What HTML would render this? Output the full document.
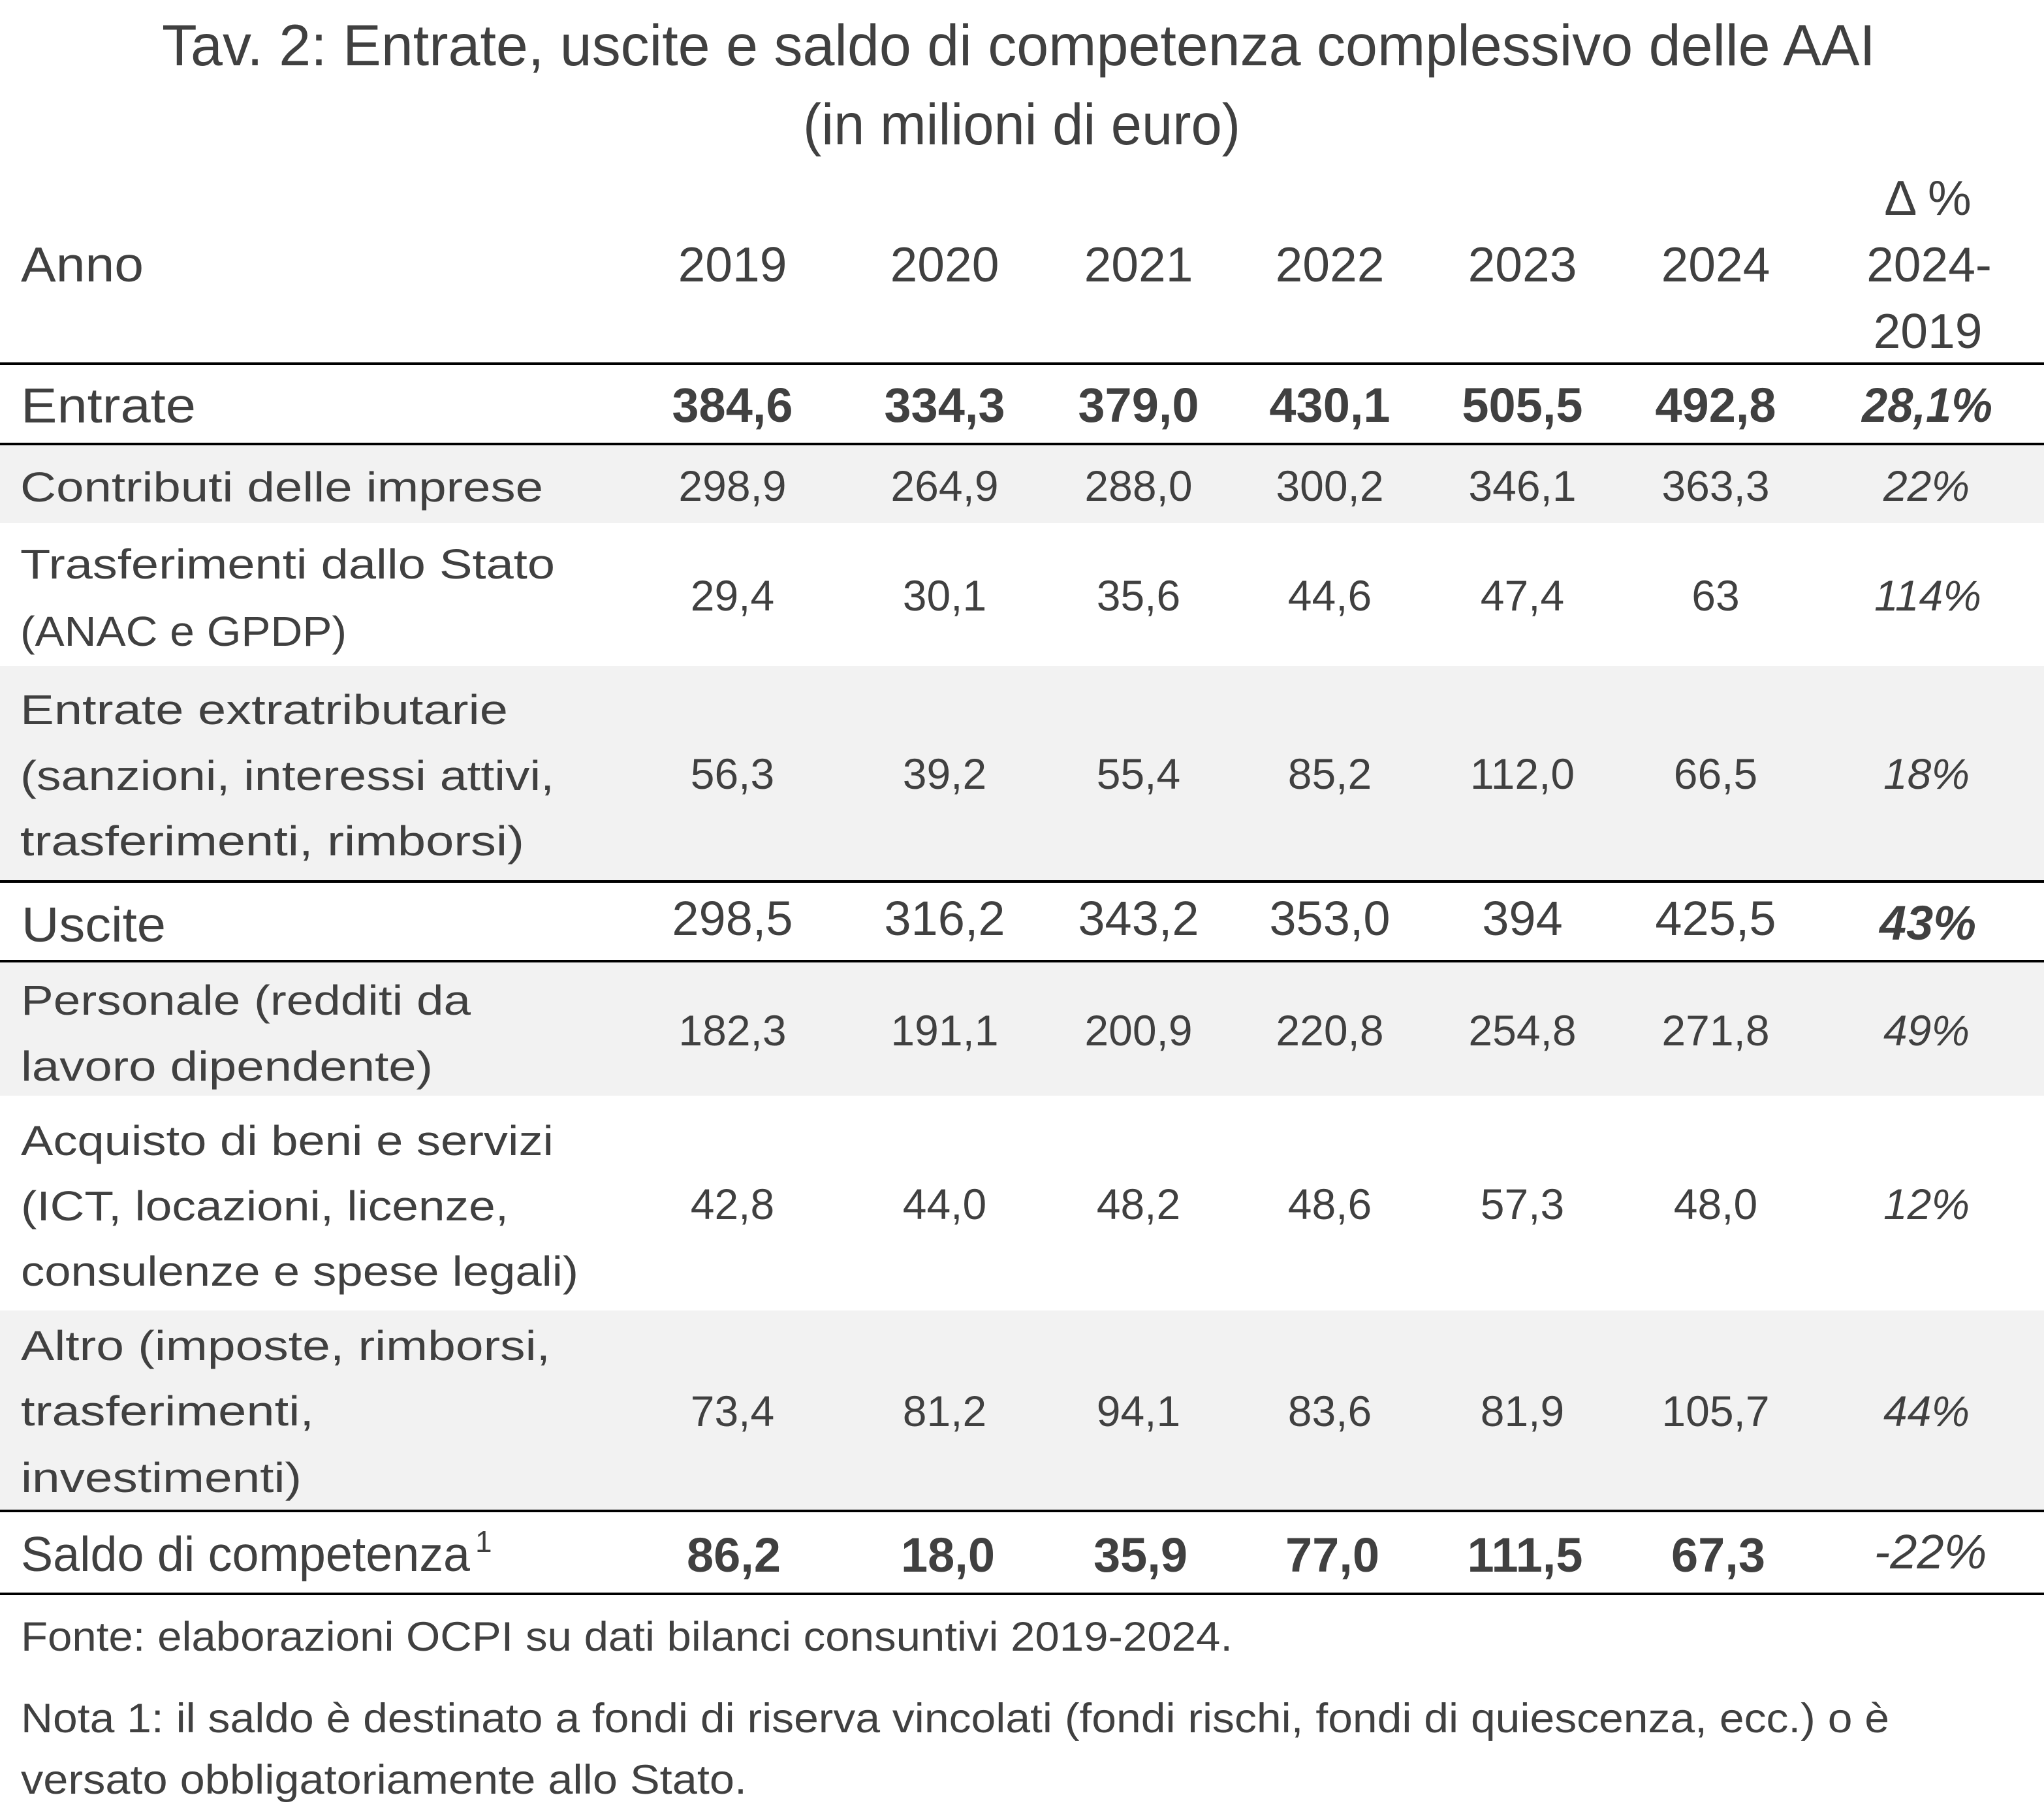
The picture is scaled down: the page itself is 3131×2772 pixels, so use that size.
<!DOCTYPE html>
<html>
<head>
<meta charset="utf-8">
<style>
  html,body{margin:0;padding:0;background:#fff;}
  svg{display:block;}
  text{font-family:"Liberation Sans",sans-serif;fill:#404040;}
  .t{font-size:89px;}
  .h{font-size:75px;}
  .b{font-size:64px;}
  .n{font-size:66px;text-anchor:middle;}
  .nb{font-size:74px;text-anchor:middle;}
  .bold{font-weight:bold;}
  .it{font-style:italic;}
  .f{font-size:63px;}
</style>
</head>
<body>
<svg width="3131" height="2772" viewBox="0 0 3131 2772" xmlns="http://www.w3.org/2000/svg">
  <rect x="0" y="0" width="3131" height="2772" fill="#ffffff"/>

  <!-- gray bands -->
  <rect x="0" y="682" width="3131" height="119" fill="#f2f2f2"/>
  <rect x="0" y="1020" width="3131" height="328" fill="#f2f2f2"/>
  <rect x="0" y="1474" width="3131" height="204" fill="#f2f2f2"/>
  <rect x="0" y="2007" width="3131" height="305" fill="#f2f2f2"/>

  <!-- rules -->
  <rect x="0" y="555" width="3131" height="4" fill="#000"/>
  <rect x="0" y="678" width="3131" height="4" fill="#000"/>
  <rect x="0" y="1348" width="3131" height="4" fill="#000"/>
  <rect x="0" y="1470" width="3131" height="4" fill="#000"/>
  <rect x="0" y="2312" width="3131" height="4" fill="#000"/>
  <rect x="0" y="2439" width="3131" height="4" fill="#000"/>

  <!-- title -->
  <text class="t" x="248" y="100" textLength="2625" lengthAdjust="spacingAndGlyphs">Tav. 2: Entrate, uscite e saldo di competenza complessivo delle AAI</text>
  <text class="t" x="1230" y="221" textLength="670" lengthAdjust="spacingAndGlyphs">(in milioni di euro)</text>

  <!-- header -->
  <text class="h" x="32" y="431" textLength="188" lengthAdjust="spacingAndGlyphs">Anno</text>
  <text class="h" x="1122" y="431" text-anchor="middle">2019</text>
  <text class="h" x="1447" y="431" text-anchor="middle">2020</text>
  <text class="h" x="1744" y="431" text-anchor="middle">2021</text>
  <text class="h" x="2037" y="431" text-anchor="middle">2022</text>
  <text class="h" x="2332" y="431" text-anchor="middle">2023</text>
  <text class="h" x="2628" y="431" text-anchor="middle">2024</text>
  <text class="h" x="2953" y="329" text-anchor="middle">Δ %</text>
  <text class="h" x="2955" y="431" text-anchor="middle">2024-</text>
  <text class="h" x="2953" y="533" text-anchor="middle">2019</text>

  <!-- Entrate -->
  <text class="h" x="32" y="647" textLength="268" lengthAdjust="spacingAndGlyphs">Entrate</text>
  <text class="nb bold" x="1122" y="646">384,6</text>
  <text class="nb bold" x="1447" y="646">334,3</text>
  <text class="nb bold" x="1744" y="646">379,0</text>
  <text class="nb bold" x="2037" y="646">430,1</text>
  <text class="nb bold" x="2332" y="646">505,5</text>
  <text class="nb bold" x="2628" y="646">492,8</text>
  <text class="nb bold it" x="2952" y="646" textLength="200" lengthAdjust="spacingAndGlyphs">28,1%</text>

  <!-- Contributi -->
  <text class="b" x="31" y="768" textLength="801" lengthAdjust="spacingAndGlyphs">Contributi delle imprese</text>
  <text class="n" x="1122" y="767">298,9</text>
  <text class="n" x="1447" y="767">264,9</text>
  <text class="n" x="1744" y="767">288,0</text>
  <text class="n" x="2037" y="767">300,2</text>
  <text class="n" x="2332" y="767">346,1</text>
  <text class="n" x="2628" y="767">363,3</text>
  <text class="n it" x="2951" y="767">22%</text>

  <!-- Trasferimenti -->
  <text class="b" x="31" y="886" textLength="819" lengthAdjust="spacingAndGlyphs">Trasferimenti dallo Stato</text>
  <text class="b" x="31" y="989" textLength="500" lengthAdjust="spacingAndGlyphs">(ANAC e GPDP)</text>
  <text class="n" x="1122" y="935">29,4</text>
  <text class="n" x="1447" y="935">30,1</text>
  <text class="n" x="1744" y="935">35,6</text>
  <text class="n" x="2037" y="935">44,6</text>
  <text class="n" x="2332" y="935">47,4</text>
  <text class="n" x="2628" y="935">63</text>
  <text class="n it" x="2953" y="935">114%</text>

  <!-- Entrate extratributarie -->
  <text class="b" x="31" y="1109" textLength="747" lengthAdjust="spacingAndGlyphs">Entrate extratributarie</text>
  <text class="b" x="31" y="1210" textLength="818" lengthAdjust="spacingAndGlyphs">(sanzioni, interessi attivi,</text>
  <text class="b" x="31" y="1310" textLength="772" lengthAdjust="spacingAndGlyphs">trasferimenti, rimborsi)</text>
  <text class="n" x="1122" y="1208">56,3</text>
  <text class="n" x="1447" y="1208">39,2</text>
  <text class="n" x="1744" y="1208">55,4</text>
  <text class="n" x="2037" y="1208">85,2</text>
  <text class="n" x="2332" y="1208">112,0</text>
  <text class="n" x="2628" y="1208">66,5</text>
  <text class="n it" x="2951" y="1208">18%</text>

  <!-- Uscite -->
  <text class="h" x="33" y="1442" textLength="221" lengthAdjust="spacingAndGlyphs">Uscite</text>
  <text class="nb" x="1122" y="1432">298,5</text>
  <text class="nb" x="1447" y="1432">316,2</text>
  <text class="nb" x="1744" y="1432">343,2</text>
  <text class="nb" x="2037" y="1432">353,0</text>
  <text class="nb" x="2332" y="1432">394</text>
  <text class="nb" x="2628" y="1432">425,5</text>
  <text class="nb bold it" x="2953" y="1439">43%</text>

  <!-- Personale -->
  <text class="b" x="32" y="1554" textLength="689" lengthAdjust="spacingAndGlyphs">Personale (redditi da</text>
  <text class="b" x="32" y="1655" textLength="631" lengthAdjust="spacingAndGlyphs">lavoro dipendente)</text>
  <text class="n" x="1122" y="1601">182,3</text>
  <text class="n" x="1447" y="1601">191,1</text>
  <text class="n" x="1744" y="1601">200,9</text>
  <text class="n" x="2037" y="1601">220,8</text>
  <text class="n" x="2332" y="1601">254,8</text>
  <text class="n" x="2628" y="1601">271,8</text>
  <text class="n it" x="2951" y="1601">49%</text>

  <!-- Acquisto -->
  <text class="b" x="32" y="1769" textLength="816" lengthAdjust="spacingAndGlyphs">Acquisto di beni e servizi</text>
  <text class="b" x="32" y="1869" textLength="747" lengthAdjust="spacingAndGlyphs">(ICT, locazioni, licenze,</text>
  <text class="b" x="32" y="1969" textLength="854" lengthAdjust="spacingAndGlyphs">consulenze e spese legali)</text>
  <text class="n" x="1122" y="1867">42,8</text>
  <text class="n" x="1447" y="1867">44,0</text>
  <text class="n" x="1744" y="1867">48,2</text>
  <text class="n" x="2037" y="1867">48,6</text>
  <text class="n" x="2332" y="1867">57,3</text>
  <text class="n" x="2628" y="1867">48,0</text>
  <text class="n it" x="2951" y="1867">12%</text>

  <!-- Altro -->
  <text class="b" x="32" y="2083" textLength="811" lengthAdjust="spacingAndGlyphs">Altro (imposte, rimborsi,</text>
  <text class="b" x="32" y="2183" textLength="449" lengthAdjust="spacingAndGlyphs">trasferimenti,</text>
  <text class="b" x="32" y="2285" textLength="430" lengthAdjust="spacingAndGlyphs">investimenti)</text>
  <text class="n" x="1122" y="2184">73,4</text>
  <text class="n" x="1447" y="2184">81,2</text>
  <text class="n" x="1744" y="2184">94,1</text>
  <text class="n" x="2037" y="2184">83,6</text>
  <text class="n" x="2332" y="2184">81,9</text>
  <text class="n" x="2628" y="2184">105,7</text>
  <text class="n it" x="2951" y="2184">44%</text>

  <!-- Saldo -->
  <text class="h" x="32" y="2406" textLength="688" lengthAdjust="spacingAndGlyphs">Saldo di competenza</text>
  <text x="728" y="2377" style="font-size:46px;">1</text>
  <text class="nb bold" x="1124" y="2407">86,2</text>
  <text class="nb bold" x="1452" y="2407">18,0</text>
  <text class="nb bold" x="1747" y="2407">35,9</text>
  <text class="nb bold" x="2041" y="2407">77,0</text>
  <text class="nb bold" x="2336" y="2407">111,5</text>
  <text class="nb bold" x="2632" y="2407">67,3</text>
  <text class="nb it" x="2957" y="2402">-22%</text>

  <!-- notes -->
  <text class="f" x="32" y="2528" textLength="1856" lengthAdjust="spacingAndGlyphs">Fonte: elaborazioni OCPI su dati bilanci consuntivi 2019-2024.</text>
  <text class="f" x="32" y="2653" textLength="2862" lengthAdjust="spacingAndGlyphs">Nota 1: il saldo è destinato a fondi di riserva vincolati (fondi rischi, fondi di quiescenza, ecc.) o è</text>
  <text class="f" x="32" y="2747" textLength="1112" lengthAdjust="spacingAndGlyphs">versato obbligatoriamente allo Stato.</text>
</svg>
</body>
</html>
